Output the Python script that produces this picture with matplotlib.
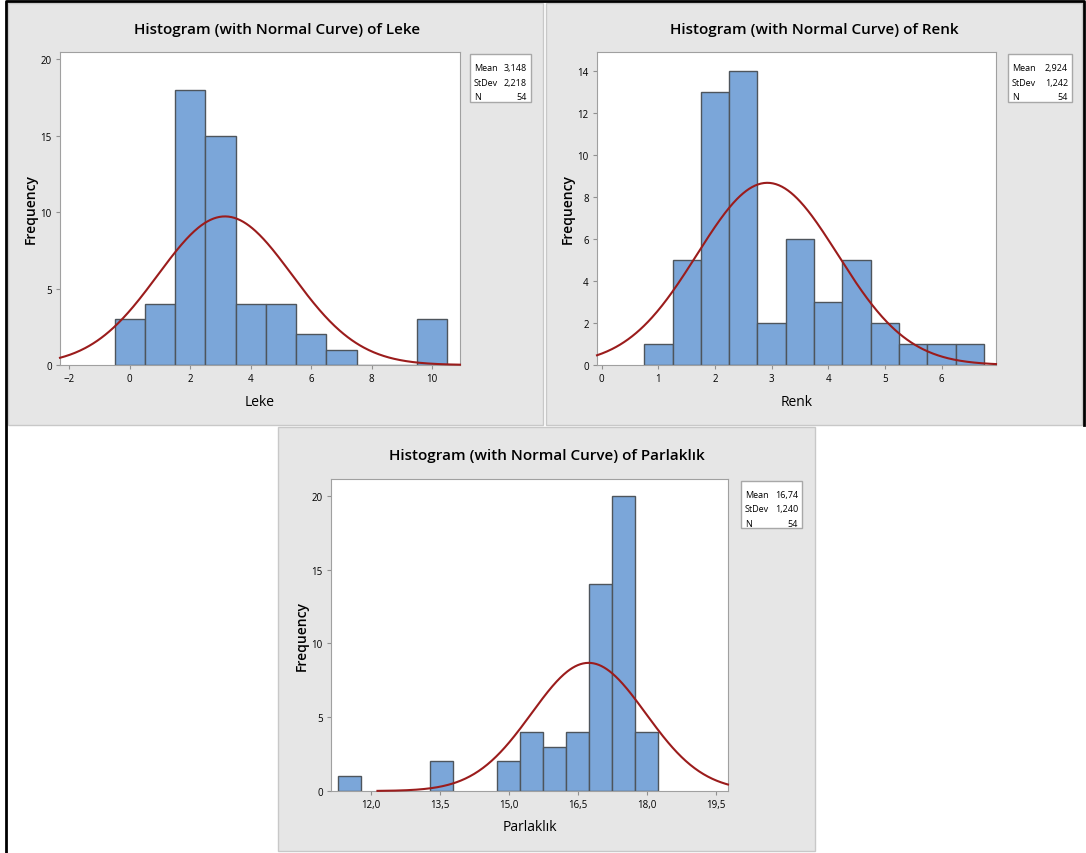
import numpy as np
import matplotlib
matplotlib.use('Agg')
import matplotlib.pyplot as plt
from matplotlib.patches import Rectangle
from matplotlib.ticker import FuncFormatter

plt.rcParams['font.family'] = ['Open Sans', 'DejaVu Sans']

W, H = 1086, 854

# Leke
leke_centers = [0, 1, 2, 3, 4, 5, 6, 7, 8, 9, 10]
leke_counts = [3, 4, 18, 15, 4, 4, 2, 1, 0, 0, 3]
leke_stats = ['3,148', '2,218', '54']

# Renk
renk_centers = [1.0, 1.5, 2.0, 2.5, 3.0, 3.5, 4.0, 4.5, 5.0, 5.5, 6.0, 6.5]
renk_counts = [1, 5, 13, 14, 2, 6, 3, 5, 2, 1, 1, 1]
renk_stats = ['2,924', '1,242', '54']

# Parlaklik
parl_centers = [11.55, 13.55, 15.0, 15.5, 16.0, 16.5, 17.0, 17.5, 18.0]
parl_counts = [1, 2, 2, 4, 3, 4, 14, 20, 4]
parl_stats = ['16,74', '1,240', '54']

BAR = '#7ba6d9'
EDGE = '#4e555c'
CURVE = '#9b1c1c'
PANEL = '#e6e6e6'


def px_axes(fig, x0, y0, x1, y1):
    return fig.add_axes([x0 / W, 1 - y1 / H, (x1 - x0) / W, (y1 - y0) / H], zorder=2)


def panel(bg, x0, y0, x1, y1):
    bg.add_patch(Rectangle((x0, y0), x1 - x0, y1 - y0, facecolor=PANEL,
                           edgecolor='#c8c8c8', lw=1, zorder=1))


def stats_box(bg, x0, y0, x1, y1, stats):
    bg.add_patch(Rectangle((x0, y0), x1 - x0, y1 - y0, facecolor='white',
                           edgecolor='#a8a8a8', lw=1, zorder=2))
    names = ['Mean', 'StDev', 'N']
    step = (y1 - y0) / 3.3
    for i in range(3):
        yy = y0 + step * (i + 0.95)
        bg.text(x0 + 4, yy, names[i], fontsize=6.5, va='center', ha='left', zorder=3)
        bg.text(x1 - 4, yy, stats[i], fontsize=6.5, va='center', ha='right', zorder=3)


def hist_plot(ax, centers, counts, width, stats, xlim, ylim, yticks, xticks, curve_rng, xfmt=None):
    ax.bar(centers, counts, width=width, color=BAR, edgecolor=EDGE, linewidth=1, zorder=2)
    mean = float(stats[0].replace(',', '.'))
    sd = float(stats[1].replace(',', '.'))
    n = int(stats[2])
    x = np.linspace(curve_rng[0], curve_rng[1], 400)
    y = n * width / (sd * np.sqrt(2 * np.pi)) * np.exp(-0.5 * ((x - mean) / sd) ** 2)
    ax.plot(x, y, color=CURVE, lw=1.5, zorder=3, clip_on=False)
    ax.set_xlim(xlim)
    ax.set_ylim(ylim)
    ax.set_yticks(yticks)
    ax.set_xticks(xticks)
    if xfmt:
        ax.xaxis.set_major_formatter(FuncFormatter(xfmt))
    ax.tick_params(labelsize=7, length=3, color='#909090', pad=3)
    for s in ax.spines.values():
        s.set_color('#a0a0a0')


fig = plt.figure(figsize=(W / 100, H / 100), dpi=100)
fig.patch.set_facecolor('white')

bg = fig.add_axes([0, 0, 1, 1], zorder=0)
bg.set_xlim(0, W)
bg.set_ylim(H, 0)
bg.axis('off')

# outer borders
bg.plot([6, 6, 1084, 1084], [854, 2, 2, 426], color='black', lw=2, zorder=5)

panel(bg, 8, 4, 543, 426)
panel(bg, 546, 4, 1082, 426)
panel(bg, 278, 428, 815, 852)

# Leke
ax1 = px_axes(fig, 60, 53, 460, 366)
hist_plot(ax1, leke_centers, leke_counts, 1.0, leke_stats,
          (-2.307, 10.92), (0, 20.46), [0, 5, 10, 15, 20], [-2, 0, 2, 4, 6, 8, 10],
          (-2.307, 10.92))
ax1.set_xlabel('Leke', fontsize=10, labelpad=7)
ax1.set_ylabel('Frequency', fontsize=10, fontweight='semibold', labelpad=2)
bg.text(277, 30, 'Histogram (with Normal Curve) of Leke', fontsize=11,
        ha='center', va='center', fontweight='semibold', zorder=3)
stats_box(bg, 470, 55, 531, 103, leke_stats)

# Renk
ax2 = px_axes(fig, 597, 53, 996, 366)
hist_plot(ax2, renk_centers, renk_counts, 0.5, renk_stats,
          (-0.083, 6.96), (0, 14.9), list(range(0, 15, 2)), [0, 1, 2, 3, 4, 5, 6],
          (-0.083, 6.96))
ax2.set_xlabel('Renk', fontsize=10, labelpad=7)
ax2.set_ylabel('Frequency', fontsize=10, fontweight='semibold', labelpad=2)
bg.text(814, 30, 'Histogram (with Normal Curve) of Renk', fontsize=11,
        ha='center', va='center', fontweight='semibold', zorder=3)
stats_box(bg, 1008, 55, 1072, 103, renk_stats)

# Parlaklik
ax3 = px_axes(fig, 331, 480, 728, 792)
hist_plot(ax3, parl_centers, parl_counts, 0.5, parl_stats,
          (11.14, 19.77), (0, 21.15), [0, 5, 10, 15, 20], [12.0, 13.5, 15.0, 16.5, 18.0, 19.5],
          (12.15, 19.77), xfmt=lambda v, p: f'{v:.1f}'.replace('.', ','))
ax3.set_xlabel('Parlaklık', fontsize=10, labelpad=6)
ax3.set_ylabel('Frequency', fontsize=10, fontweight='semibold', labelpad=2)
bg.text(547, 456, 'Histogram (with Normal Curve) of Parlaklık', fontsize=11,
        ha='center', va='center', fontweight='semibold', zorder=3)
stats_box(bg, 741, 482, 802, 529, parl_stats)

fig.savefig('out.png', dpi=100)
